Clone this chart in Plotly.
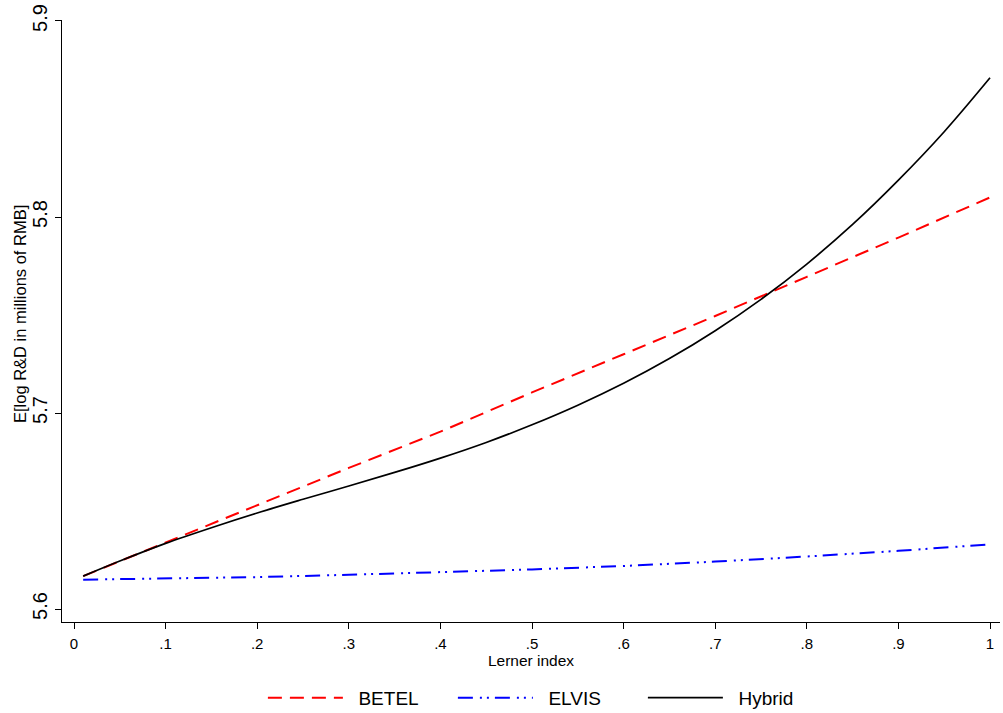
import plotly.graph_objects as go

# Lerner index grid (x values)
x_coarse = [0.01, 0.1, 0.2, 0.3, 0.4, 0.5, 0.6, 0.7, 0.8, 0.9, 1.0]
betel = [5.6168, 5.6340, 5.6528, 5.6720, 5.6905, 5.7105, 5.7300, 5.7495, 5.7695, 5.7895, 5.8100]
elvis = [5.6150, 5.6155, 5.6163, 5.6175, 5.6188, 5.6202, 5.6220, 5.6242, 5.6268, 5.6297, 5.6330]

x_fine = [0.01, 0.05, 0.1, 0.15, 0.2, 0.25, 0.3, 0.35, 0.4, 0.45, 0.5,
          0.55, 0.6, 0.65, 0.7, 0.75, 0.8, 0.85, 0.9, 0.95, 1.0]
hybrid = [5.6168, 5.6245, 5.6335, 5.6415, 5.6490, 5.6560, 5.6628, 5.6697, 5.6770, 5.6850, 5.6940,
          5.7040, 5.7152, 5.7278, 5.7420, 5.7580, 5.7760, 5.7962, 5.8188, 5.8435, 5.8710]

x_ticks = [0, 0.1, 0.2, 0.3, 0.4, 0.5, 0.6, 0.7, 0.8, 0.9, 1.0]
x_tick_labels = ["0", ".1", ".2", ".3", ".4", ".5", ".6", ".7", ".8", ".9", "1"]
y_ticks = [5.6, 5.7, 5.8, 5.9]
y_tick_labels = ["5.6", "5.7", "5.8", "5.9"]

FONT = "Liberation Sans, Arial, Helvetica, sans-serif"
PAD = "\u00a0\u00a0"

fig = go.Figure()
fig.add_trace(go.Scatter(x=x_coarse, y=betel, mode="lines", name=PAD + "BETEL",
                         line=dict(color="#ff0000", width=2, dash="14px,8px")))
fig.add_trace(go.Scatter(x=x_coarse, y=elvis, mode="lines", name=PAD + "ELVIS",
                         line=dict(color="#0000ff", width=2, dash="15px,7px,2px,5px,2px,6px")))
fig.add_trace(go.Scatter(x=x_fine, y=hybrid, mode="lines", name=PAD + "Hybrid", line_shape="spline",
                         line=dict(color="#000000", width=1.7)))

fig.update_layout(
    width=1003, height=713,
    margin=dict(l=62, r=3, t=20, b=91, autoexpand=False),
    paper_bgcolor="white", plot_bgcolor="white",
    font=dict(family=FONT, color="black"),
    showlegend=True,
    legend=dict(orientation="h", x=0.518, xanchor="center", y=-0.126, yanchor="middle",
                font=dict(size=19, family=FONT), itemwidth=75,
                entrywidth=100, entrywidthmode="pixels", traceorder="normal"),
    annotations=[dict(text="E[log R&D in millions of RMB]", textangle=-90, showarrow=False,
                      xref="paper", yref="paper", x=-0.0448, y=0.5116,
                      xanchor="center", yanchor="middle",
                      font=dict(size=16.5, family=FONT, color="black"))],
)
fig.update_xaxes(
    range=[-0.0131, 1.0109], tickvals=x_ticks, ticktext=x_tick_labels,
    showgrid=False, zeroline=False, showline=True, linecolor="black", linewidth=1,
    ticks="outside", ticklen=6, tickcolor="black", tickwidth=1, ticklabelstandoff=2,
    tickfont=dict(size=15, family=FONT), automargin=False,
    title=dict(text="Lerner index", font=dict(size=15.5, family=FONT), standoff=4),
)
fig.update_yaxes(
    range=[5.5934, 5.9005], tickvals=y_ticks, ticktext=y_tick_labels, tickangle=-90,
    showgrid=False, zeroline=False, showline=True, linecolor="black", linewidth=1,
    ticks="outside", ticklen=6, tickcolor="black", tickwidth=1, automargin=False,
    tickfont=dict(size=20, family=FONT),
)

fig.write_html("out.html")
